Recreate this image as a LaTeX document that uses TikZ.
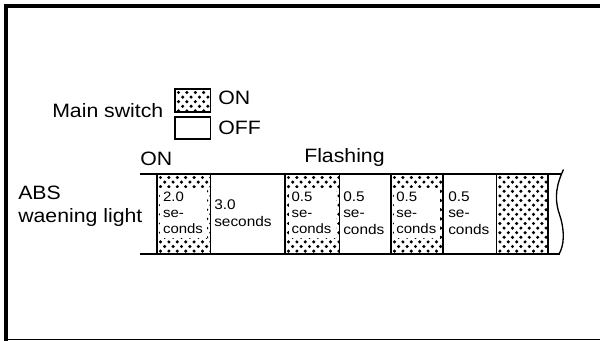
\documentclass[tikz,border=0pt]{standalone}
\usepackage{fontspec}
\setmainfont{Liberation Sans}[FakeStretch=1.1]
\usepackage{tikz}

\begin{document}
\begin{tikzpicture}[
        x=0.75pt, y=-0.75pt,
        txt/.style={font=\fontsize{14.5}{17}\selectfont, inner sep=0pt, anchor=base west},
        litnote/.style={fill=white, inner sep=2pt, text width=31pt, align=left,
            minimum width=35pt, minimum height=37pt,
            font=\fontsize{10.2}{11.8}\selectfont},
        darknote/.style={inner sep=1.5pt, anchor=west, align=left,
            font=\fontsize{10.5}{12.5}\selectfont},
        edge/.style={line width=1.3pt},
    ]
        \useasboundingbox (0,0) rectangle (600,341);
        % frame
        \draw[line width=3.2pt] (6,341) -- (6,6) -- (600,6);
        \draw[line width=1pt] (6,339.5) -- (600,339.5);

        % dotted areas (lit lamp)
        \foreach \xa/\xb/\ya/\yb in {157/210.5/174/254, 285/339.4/174/254,
                391/443/174/254, 496.4/548/174/254, 175/210.5/89/112} {
            \begin{scope}
                \clip (\xa,\ya) rectangle (\xb,\yb);
                \foreach \r in {0,...,17}
                    \foreach \c in {0,...,6}
                        \fill ({\xa+3.5+8.4*\c+4.2*mod(\r,2)},{\ya+3.5+4.6*\r}) circle[radius=1.3pt];
            \end{scope}
        }

        % legend
        \node[txt] (mainsw) at (52,117.3) {Main switch};
        \draw[line width=1pt] (175,89) rectangle (210.5,112);
        \draw[line width=1pt] (175,117) rectangle (210.5,139);
        \node[txt] (legon) at (218,105) {ON};
        \node[txt] (legoff) at (218,135) {OFF};

        % headings
        \node[txt] (lampon) at (140,165.5) {ON};
        \node[txt] (flash) at (304,163) {Flashing};
        \node[txt] (abs) at (18,200) {ABS};
        \node[txt] (lamp) at (18,222.7) {waening light};

        % time band
        \foreach \xx in {157, 210.5, 285, 339.4, 391, 443, 496.4, 548}
            \draw[edge] (\xx,174) -- (\xx,254);
        \draw[line width=1.6pt] (140,174) -- (562,174);
        \draw[line width=1.6pt] (140,254) -- (560,254);
        \draw[line width=1pt] (563.5,169.5) -- (561.5,174)
            .. controls (555,190) and (555,202) .. (560,216)
            .. controls (565,232) and (564,246) .. (559,254);

        \node[litnote] (c1) at (183.7,213) {2.0\\se-\\conds};
        \node[darknote] (c2) at (212,213) {3.0\\seconds};
        \node[litnote] (c3) at (312.2,213) {0.5\\se-\\conds};
        \node[darknote] (c4) at (341,213) {0.5\\se-\\conds};
        \node[litnote] (c5) at (417,213) {0.5\\se-\\conds};
        \node[darknote] (c6) at (446,213) {0.5\\se-\\conds};
    \end{tikzpicture}
\end{document}
